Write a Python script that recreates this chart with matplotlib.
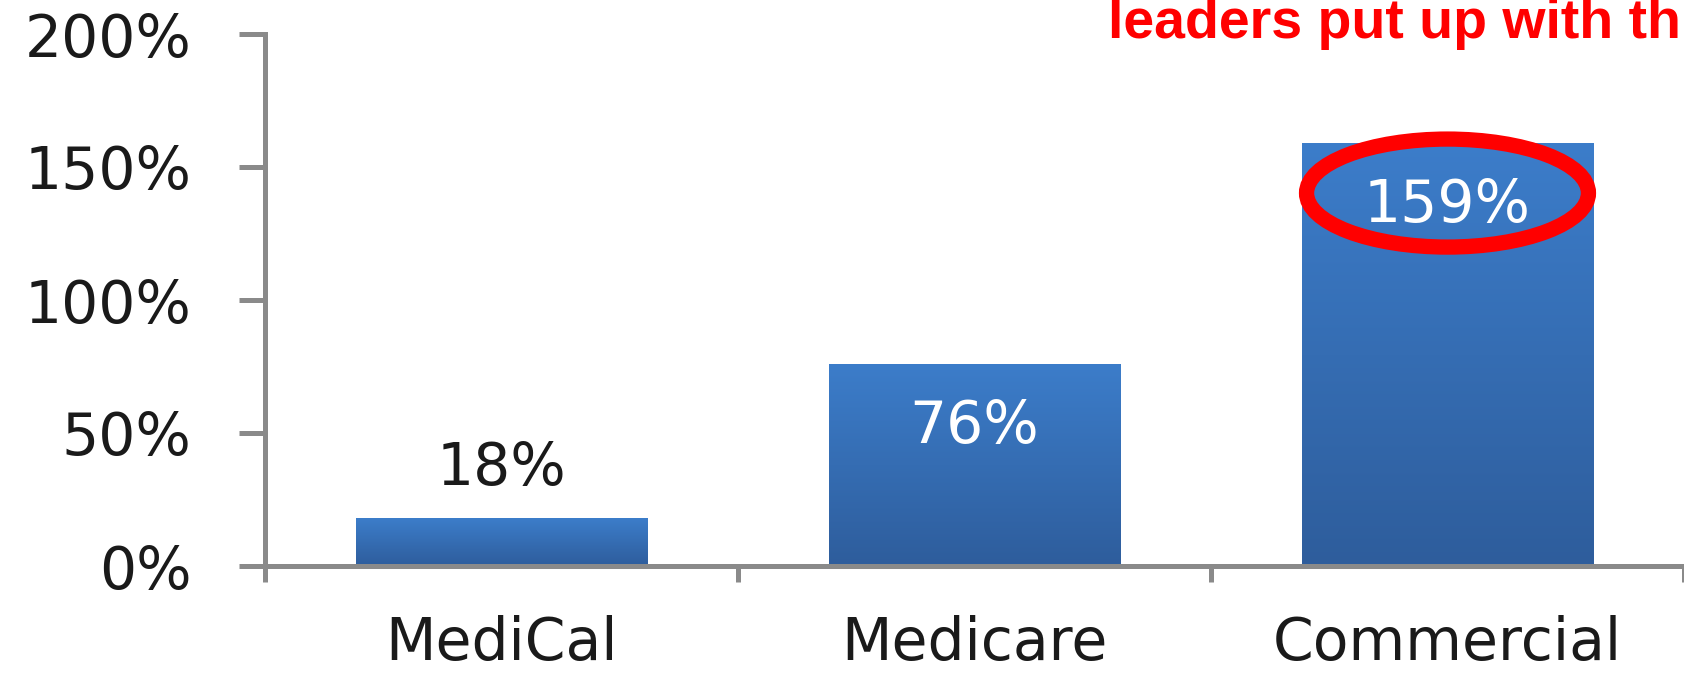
import numpy as np
import matplotlib
matplotlib.use("Agg")
import matplotlib.pyplot as plt
from matplotlib.patches import Ellipse
from matplotlib.colors import LinearSegmentedColormap

categories = ["MediCal", "Medicare", "Commercial"]
values = [18, 76, 159]
value_labels = ["18%", "76%", "159%"]
y_ticks = [0, 50, 100, 150, 200]
y_tick_labels = ["0%", "50%", "100%", "150%", "200%"]
title_text = "leaders put up with th"

# highlight ring around the last bar's label
highlight_center = (2.0, 140.2)
highlight_size = (0.596, 40.6)


def main():
	fig = plt.figure(figsize=(16.84, 6.73), dpi=100)
	ax = fig.add_axes([265 / 1684, 107 / 673, 1 - 265 / 1684, 532 / 673])

	axis_grey = "#8a8a8a"
	text_dark = "#1a1a1a"
	font = "DejaVu Sans"

	x = np.arange(len(categories))
	bars = ax.bar(x, values, width=0.616, color="#3670b8", zorder=2)

	# vertical gradient on each bar (lighter at top)
	cmap = LinearSegmentedColormap.from_list("bar", ["#2e5d9c", "#3c7dca"])
	grad = np.linspace(0, 1, 256).reshape(-1, 1)
	for b in bars:
		x0, w, h = b.get_x(), b.get_width(), b.get_height()
		im = ax.imshow(grad, extent=[x0, x0 + w, 0, h], origin="lower",
			aspect="auto", cmap=cmap, zorder=2.1)
		im.set_clip_path(b)

	ax.set_xlim(-0.5, 2.5)
	ax.set_ylim(0, 200)

	# value labels: small bar above, tall bars inside
	for i, (v, lab) in enumerate(zip(values, value_labels)):
		if v < 40:
			ax.annotate(lab, (x[i], v), xytext=(0, 36), textcoords="offset points",
				ha="center", va="center", fontsize=42, color=text_dark,
				family=font, zorder=4)
		else:
			ax.annotate(lab, (x[i], v), xytext=(0, -45), textcoords="offset points",
				ha="center", va="center", fontsize=42, color="white",
				family=font, zorder=4)

	ring = Ellipse(highlight_center, highlight_size[0], highlight_size[1],
		fill=False, edgecolor="#ff0000", linewidth=11, zorder=5, clip_on=False)
	ax.add_patch(ring)

	# spines
	for side in ["top", "right"]:
		ax.spines[side].set_visible(False)
	for side in ["left", "bottom"]:
		ax.spines[side].set_color(axis_grey)
		ax.spines[side].set_linewidth(3.6)
		ax.spines[side].set_zorder(3)

	ax.set_yticks(y_ticks)
	ax.set_yticklabels(y_tick_labels, fontsize=42, color=text_dark, family=font)
	ax.tick_params(axis="y", length=18.7, width=3.6, color=axis_grey, pad=34)

	# category boundaries get the tick marks, labels sit on minor ticks
	ax.set_xticks([-0.5, 0.5, 1.5, 2.5])
	ax.set_xticklabels([])
	ax.tick_params(axis="x", which="major", length=11.5, width=3.6, color=axis_grey)
	ax.set_xticks(x, minor=True)
	ax.set_xticklabels(categories, minor=True, fontsize=42, color=text_dark, family=font)
	ax.tick_params(axis="x", which="minor", length=0, pad=35)

	fig.text(1108 / 1684, 1 - 38 / 673, title_text, color="#ff0000", fontsize=40,
		fontweight="bold", family="Liberation Sans", ha="left", va="baseline")

	fig.savefig("out.png", dpi=100)


if __name__ == "__main__":
	main()
